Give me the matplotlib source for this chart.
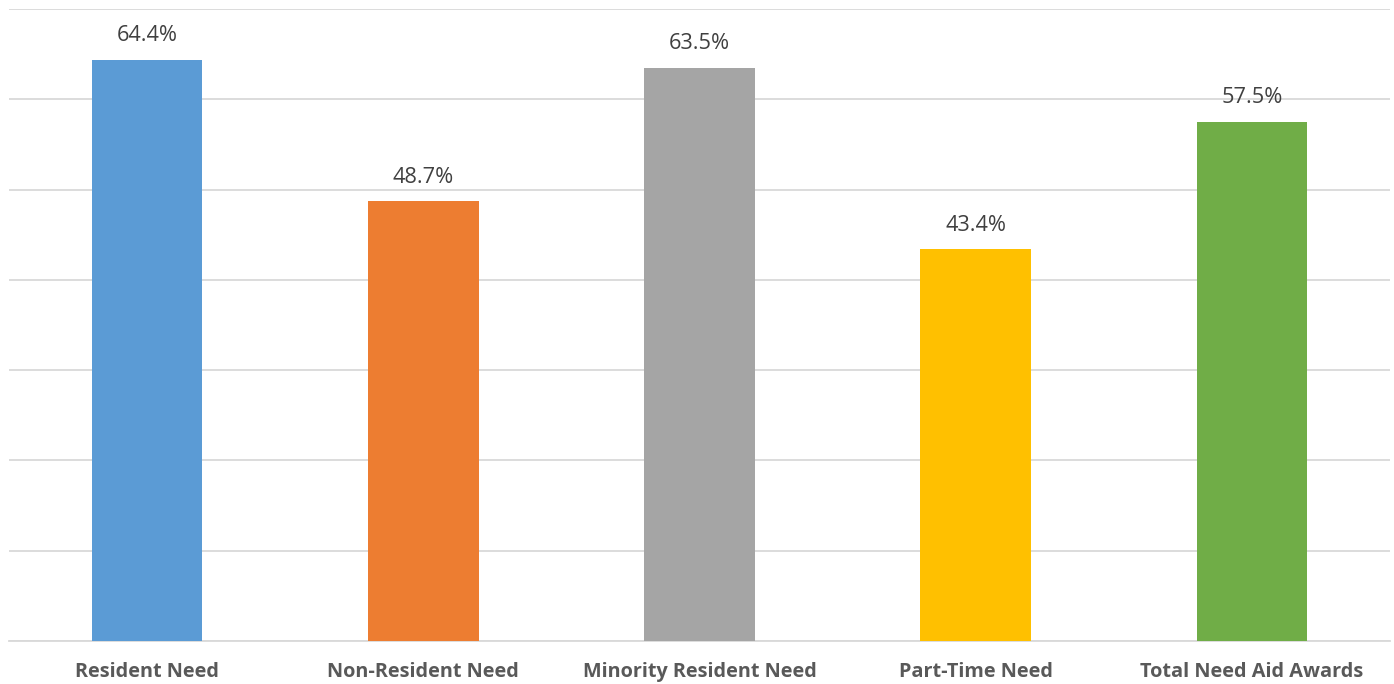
import matplotlib.pyplot as plt

categories = ['Resident Need', 'Non-Resident Need', 'Minority Resident Need',
              'Part-Time Need', 'Total Need Aid Awards']
values = [64.4, 48.7, 63.5, 43.4, 57.5]
colors = ['#5b9bd5', '#ed7d31', '#a5a5a5', '#ffc000', '#70ad47']

plt.rcParams['font.family'] = ['Open Sans', 'DejaVu Sans']

fig = plt.figure(figsize=(13.94, 6.84), dpi=100)
ax = fig.add_axes([9 / 1394, 43 / 684, 1381 / 1394, 632 / 684])

x = range(len(categories))
bars = ax.bar(x, values, width=0.4, color=colors, zorder=3)

for xi, v in zip(x, values):
    ax.text(xi, v + 1.5, f'{v:.1f}%', ha='center', va='bottom',
            fontsize=15.7, color='#404040')

ax.set_xlim(-0.5, len(categories) - 0.5)
ax.set_ylim(0, 70)
ax.set_yticks(range(0, 71, 10))
ax.yaxis.grid(True, color='#d9d9d9', linewidth=1.3, zorder=0)
ax.tick_params(axis='y', left=False, labelleft=False)
ax.tick_params(axis='x', length=0, pad=15)
ax.set_xticks(list(x))
ax.set_xticklabels(categories, fontsize=14.3, fontweight='bold', color='#595959')

for s in ['top', 'right', 'left']:
    ax.spines[s].set_visible(False)
ax.spines['bottom'].set_color('#d9d9d9')
ax.spines['bottom'].set_linewidth(1.3)

fig.savefig('out.png', dpi=100)
